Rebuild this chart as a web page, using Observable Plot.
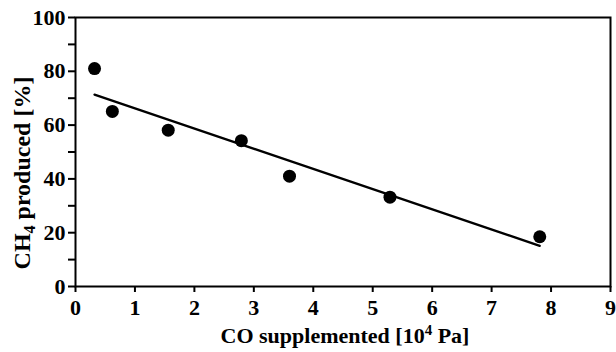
<!DOCTYPE html>
<html>
<head>
<meta charset="utf-8">
<script src="https://cdn.jsdelivr.net/npm/d3@7"></script>
<script src="https://cdn.jsdelivr.net/npm/@observablehq/plot@0.6"></script>
<style>
  html, body { margin: 0; padding: 0; background: #fff; }
  #chart svg { display: block; }
</style>
</head>
<body>
<div id="chart"></div>
<script>
// CO supplemented [10^4 Pa]
const coSupplemented = [0.32, 0.62, 1.56, 2.79, 3.60, 5.29, 7.81];
// CH4 produced [%]
const ch4Produced = [81.0, 65.1, 58.1, 54.2, 41.0, 33.2, 18.5];
const xTicks = [0, 1, 2, 3, 4, 5, 6, 7, 8, 9];
const yTicks = [0, 20, 40, 60, 80, 100];
const yMinorTicks = [10, 30, 50, 70, 90];

const data = coSupplemented.map((x, i) => ({x, y: ch4Produced[i]}));
const font = "'Liberation Serif', 'Times New Roman', serif";

const svg = Plot.plot({
  width: 616,
  height: 352,
  marginLeft: 75,
  marginRight: 6,
  marginTop: 17,
  marginBottom: 66,
  style: {fontFamily: font, fontWeight: "bold", fontSize: "22px", color: "#000", background: "#fff"},
  x: {domain: [0, 9]},
  y: {domain: [0, 100]},
  marks: [
    Plot.frame({stroke: "#000", strokeWidth: 2}),
    Plot.axisX({ticks: xTicks, tickSize: 6, tickPadding: 7, tickFormat: d => String(d), fontSize: 22, fontWeight: "bold", strokeWidth: 2, label: null}),
    Plot.axisY({ticks: yTicks, tickSize: 7, tickPadding: 3, tickFormat: d => String(d), fontSize: 22, fontWeight: "bold", strokeWidth: 2, label: null}),
    Plot.axisY({ticks: yMinorTicks, tickSize: 7, tickFormat: () => "", strokeWidth: 2, label: null}),
    Plot.linearRegressionY(data, {x: "x", y: "y", ci: 0, stroke: "#000", strokeWidth: 2.3}),
    Plot.dot(data, {x: "x", y: "y", r: 6.5, fill: "#000", stroke: "none"})
  ]
});

const s = d3.select(svg);
// y-axis title with subscript
const yl = s.append("text")
  .attr("transform", "translate(30,173) rotate(-90)")
  .attr("text-anchor", "middle")
  .style("font-family", font).style("font-weight", "bold").style("font-size", "24px")
  .attr("fill", "#000");
yl.append("tspan").text("CH");
yl.append("tspan").attr("dy", 5).style("font-size", "16px").text("4");
yl.append("tspan").attr("dy", -5).text(" produced [%]");

// x-axis title with superscript
const xl = s.append("text")
  .attr("x", 345).attr("y", 343)
  .attr("text-anchor", "middle")
  .style("font-family", font).style("font-weight", "bold").style("font-size", "22px")
  .attr("fill", "#000");
xl.append("tspan").text("CO supplemented [10");
xl.append("tspan").attr("dy", -8).style("font-size", "15px").text("4");
xl.append("tspan").attr("dy", 8).text(" Pa]");

document.getElementById("chart").appendChild(svg);
</script>
</body>
</html>
